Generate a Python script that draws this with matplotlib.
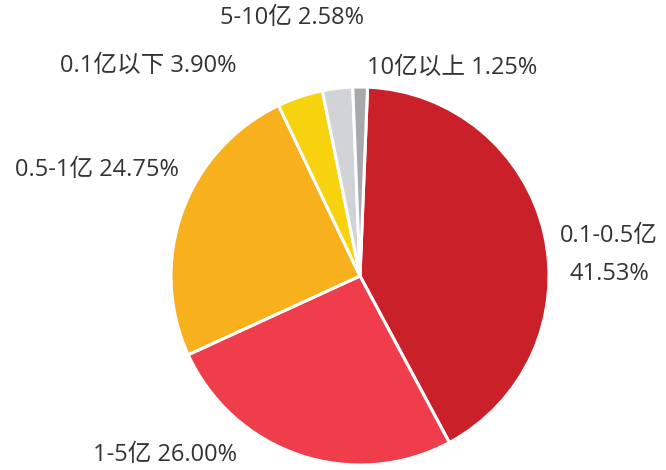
import matplotlib.pyplot as plt

plt.rcParams['font.family'] = ['Open Sans', 'Noto Sans CJK SC', 'DejaVu Sans']

# Data
categories = ['0.1-0.5亿', '1-5亿', '0.5-1亿', '0.1亿以下', '5-10亿', '10亿以上']
shares = [41.53, 26.00, 24.75, 3.90, 2.58, 1.25]
colors = ['#C9202A', '#EF3D4B', '#F8B01C', '#F6D20F', '#D1D3D6', '#A7A9AC']

fig = plt.figure(figsize=(6.66, 4.70), dpi=100)
ax = fig.add_axes([0, 0, 1, 1])

ax.pie(shares, colors=colors, startangle=87.7, counterclock=False,
       center=(360, 194), radius=189, frame=True,
       wedgeprops=dict(edgecolor='white', linewidth=2.2))
ax.set_xlim(0, 666)
ax.set_ylim(0, 470)
ax.set_aspect('equal')
ax.axis('off')

# label positions (pixel-like coords, y up)
label_pos = [(609, 215), (165, 15), (97, 300), (148, 404), (292, 452), (452, 402)]
for name, val, (x, y) in zip(categories, shares, label_pos):
    if name == '0.1-0.5亿':
        txt = f'{name}\n{val:.2f}%'
        ax.text(x, y, txt, ha='center', va='center', fontsize=17,
                color='#333333', linespacing=1.75)
    else:
        ax.text(x, y, f'{name} {val:.2f}%', ha='center', va='center',
                fontsize=17, color='#333333')

fig.savefig('out.png', dpi=100)
